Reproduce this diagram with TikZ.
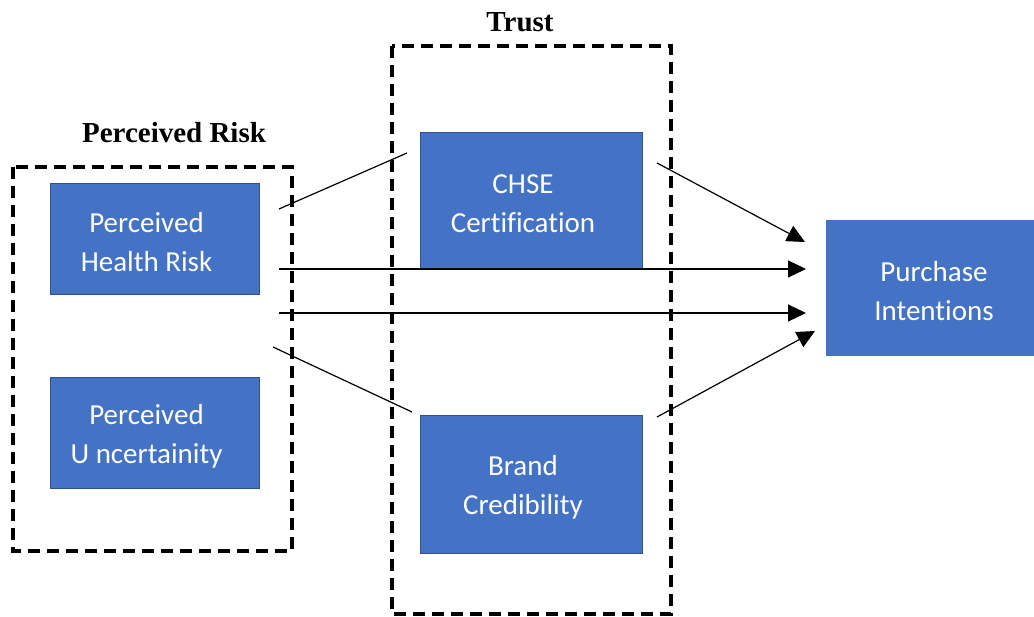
\documentclass[tikz,border=0pt]{standalone}
\usepackage{fontspec}
\setmainfont{Liberation Serif}
\newfontfamily\boxfont[Ligatures=NoCommon]{Carlito}
\usepackage{xcolor}
\usetikzlibrary{arrows.meta}

\definecolor{boxblue}{HTML}{4472C4}
\definecolor{boxedge}{HTML}{2F528F}

\tikzset{
    box/.style={fill=boxblue,draw=boxedge,line width=1pt,inner sep=0pt},
    boxlbl/.style={text=white,align=center,xshift=-8pt,yshift=-3pt,
        font=\boxfont\fontsize{29}{39}\selectfont},
    group/.style={draw,dash pattern=on 12pt off 7pt,line width=3.6pt},
    grouptitle/.style={anchor=base,font=\bfseries\fontsize{29}{34}\selectfont},
    link/.style={line width=1.2pt},
    effect/.style={link,-{Triangle[length=18pt,width=17pt]}}
}

\begin{document}
\begin{tikzpicture}[x=1pt,y=-1pt]
        \useasboundingbox (0,0) rectangle (1034,617);
        % Perceived risk
        \draw[group] (13,167) rectangle (292,551);
        \node[grouptitle] (riskttl) at (174,143) {Perceived Risk};
        \node[box,minimum width=209pt,minimum height=111pt,
            label={[boxlbl]center:Perceived\\Health Risk}] (phr) at (154.5,239.5) {};
        \node[box,minimum width=209pt,minimum height=111pt,
            label={[boxlbl]center:Perceived\\U ncertainity}] (pu) at (154.5,433.5) {};
        % Trust
        \draw[group] (392,46) rectangle (671,614);
        \node[grouptitle] (trustttl) at (520,32) {Trust};
        \node[box,minimum width=222pt,minimum height=136pt,
            label={[boxlbl]center:CHSE\\Certification}] (chse) at (531,201) {};
        \node[box,minimum width=222pt,minimum height=137pt,
            label={[boxlbl]center:Brand\\Credibility}] (bc) at (531,484.5) {};
        % Purchase intentions
        \node[box,draw=none,minimum width=232pt,minimum height=136pt,
            label={[boxlbl]center:Purchase\\Intentions}] (pi) at (942,288) {};
        % Links
        \coordinate (l1a) at (279,209);
        \coordinate (l1b) at (407,153);
        \coordinate (l2a) at (657,163);
        \coordinate (l2b) at (805,242);
        \coordinate (l3a) at (279,269);
        \coordinate (l3b) at (806,269);
        \coordinate (l4a) at (279,313);
        \coordinate (l4b) at (806,313);
        \coordinate (l5a) at (273,347);
        \coordinate (l5b) at (412,412);
        \coordinate (l6a) at (657,417);
        \coordinate (l6b) at (815,331);
        \draw[link] (l1a) -- (l1b);
        \draw[effect] (l2a) -- (l2b);
        \draw[effect] (l3a) -- (l3b);
        \draw[effect] (l4a) -- (l4b);
        \draw[link] (l5a) -- (l5b);
        \draw[effect] (l6a) -- (l6b);
\end{tikzpicture}
\end{document}
